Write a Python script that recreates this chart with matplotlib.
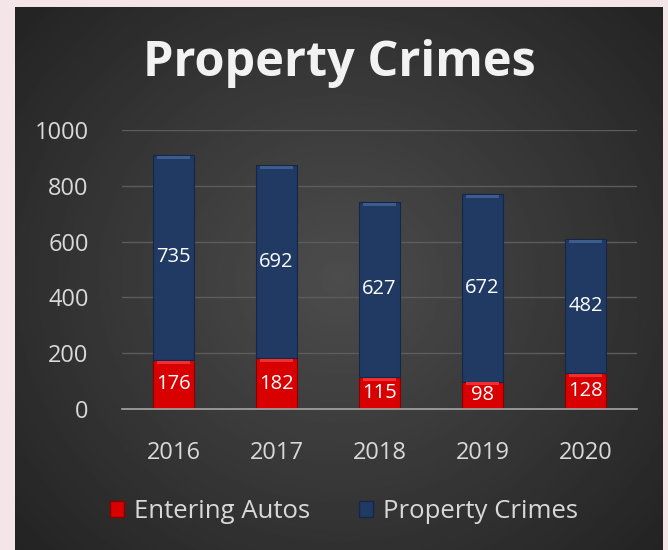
import numpy as np
import matplotlib
matplotlib.use("Agg")
import matplotlib.pyplot as plt
from matplotlib.patches import Patch

years = ["2016", "2017", "2018", "2019", "2020"]
entering_autos = [176, 182, 115, 98, 128]
property_crimes = [735, 692, 627, 672, 482]
yticks = [0, 200, 400, 600, 800, 1000]

red = "#d80000"
navy = "#203a63"
txt = "#d9d9d9"

plt.rcParams["font.family"] = ["Open Sans", "DejaVu Sans"]

fig = plt.figure(figsize=(6.68, 5.5), dpi=100)
fig.patch.set_facecolor("#f4e6e8")

# dark panel with radial gradient
bg = fig.add_axes([15 / 668, 0, 648 / 668, 543 / 550])
yy, xx = np.mgrid[-1:1:300j, -1:1:300j]
r = np.sqrt(xx ** 2 + (yy * 0.9) ** 2)
bg.imshow(0.30 - 0.12 * np.clip(r, 0, 1.4), cmap="gray", vmin=0, vmax=1,
          extent=[0, 1, 0, 1], aspect="auto")
bg.set_axis_off()

ax = fig.add_axes([122 / 668, 141 / 550, 515 / 668, 279 / 550])
ax.set_facecolor("none")
x = np.arange(len(years))
w = 0.39
b1 = ax.bar(x, entering_autos, w, color=red, edgecolor="#8a0000", linewidth=0.8,
            label="Entering Autos", zorder=3)
b2 = ax.bar(x, property_crimes, w, bottom=entering_autos, color=navy,
            edgecolor="#14264a", linewidth=0.8, label="Property Crimes", zorder=3)
# bevel highlight on top of each segment
ax.bar(x, [10] * len(x), w * 0.8, bottom=np.array(entering_autos) - 13,
       color="#f03030", linewidth=0, zorder=4)
ax.bar(x, [12] * len(x), w * 0.8,
       bottom=np.array(entering_autos) + np.array(property_crimes) - 15,
       color="#3c5c8c", linewidth=0, zorder=4)

ax.bar_label(b1, label_type="center", color="white", fontsize=14.5, zorder=5)
ax.bar_label(b2, label_type="center", color="white", fontsize=14.5, zorder=5)

ax.set_ylim(0, 1000)
ax.set_xlim(-0.5, len(years) - 0.5)
ax.set_yticks(yticks)
ax.set_xticks(x)
ax.set_xticklabels(years)
ax.tick_params(axis="both", length=0, colors=txt, labelsize=17)
ax.tick_params(axis="y", pad=24)
ax.tick_params(axis="x", pad=23)
ax.yaxis.grid(True, color="#5c5c5c", linewidth=1, zorder=0)
for s in ["top", "right", "left"]:
    ax.spines[s].set_visible(False)
ax.spines["bottom"].set_color("#a6a6a6")
ax.spines["bottom"].set_linewidth(1.2)
ax.spines["bottom"].set_zorder(6)

fig.text(0.508, 0.885, "Property Crimes", ha="center", va="center",
         fontsize=35, fontweight="bold", color="#f2f2f2")

handles = [Patch(facecolor=red, edgecolor="#8a0000", label="Entering Autos"),
           Patch(facecolor=navy, edgecolor="#14264a", label="Property Crimes")]
leg = fig.legend(handles=handles, loc="center", bbox_to_anchor=(0.515, 0.07),
                 ncol=2, frameon=False, fontsize=18.5, handlelength=0.55,
                 handleheight=0.55, handletextpad=0.4, columnspacing=1.9)
for t in leg.get_texts():
    t.set_color(txt)

fig.savefig("out.png", dpi=100, facecolor=fig.get_facecolor())
